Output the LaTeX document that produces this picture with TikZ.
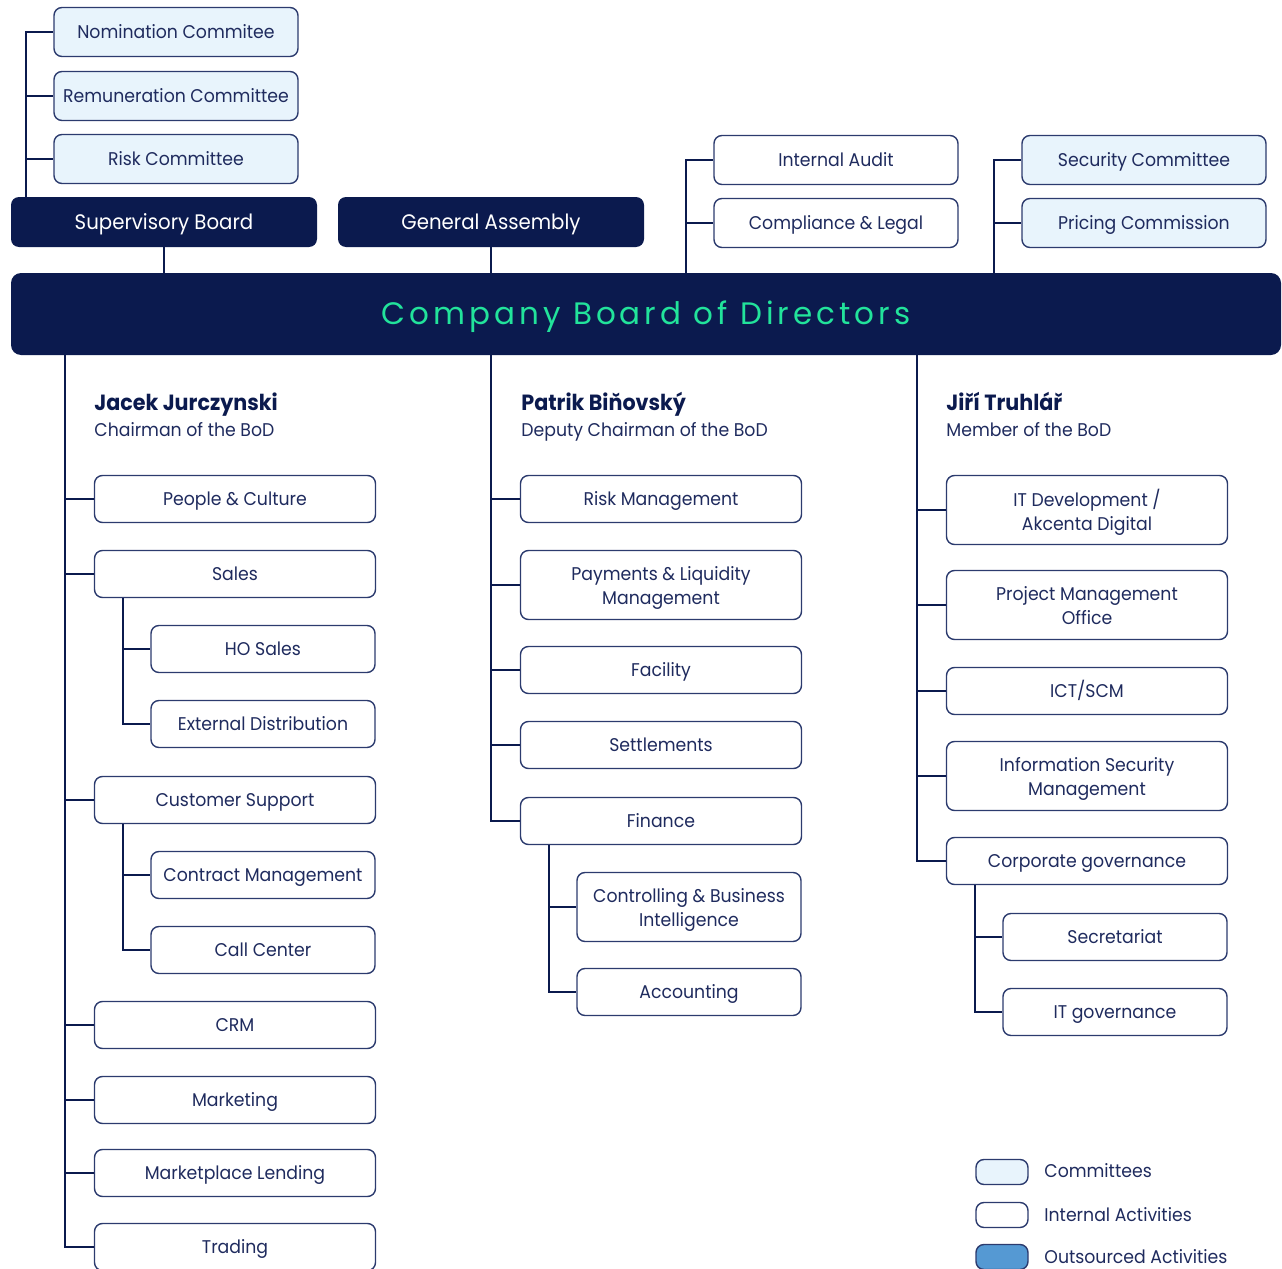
\documentclass[tikz,border=0pt]{standalone}
\usepackage{fontspec}
\setmainfont[FakeStretch=0.94]{Poppins}
\newfontfamily\boardfont[LetterSpace=13]{Poppins}
\definecolor{navy}{HTML}{0B1A4E}
\definecolor{inkblue}{HTML}{1F2B5E}
\definecolor{edgeblue}{HTML}{2C3B6E}
\definecolor{paleblue}{HTML}{E8F4FC}
\definecolor{mint}{HTML}{22E39B}
\definecolor{outblue}{HTML}{5599D3}
\begin{document}
\begin{tikzpicture}[x=0.5pt,y=-0.5pt,
    frame/.style={draw=edgeblue,line width=0.7pt,rounded corners=4pt,fill=white,text=inkblue,
        font=\fontsize{9.2}{12}\selectfont,align=center,minimum height=23.5pt,inner sep=1pt},
    oneline/.style={text height=8.84pt,text depth=2.4pt},
    unit/.style={frame,oneline,minimum width=140.5pt},
    subunit/.style={frame,oneline,minimum width=112pt},
    twoline/.style={frame,minimum width=140.5pt,minimum height=34.5pt,text depth=-1.4pt},
    subtwoline/.style={twoline,minimum width=112pt},
    small/.style={frame,oneline,minimum width=122pt,minimum height=24.5pt},
    cmte/.style={small,fill=paleblue},
    body/.style={fill=navy,rounded corners=4pt,text=white,minimum width=153pt,minimum height=25pt,
        font=\fontsize{10.5}{12}\selectfont,text height=10.05pt,text depth=2.7pt},
    link/.style={draw=navy,line width=1.2pt},
    head/.style={anchor=base west,text=navy,inner sep=0pt,font=\fontsize{11}{12}\selectfont\bfseries},
    role/.style={anchor=base west,text=inkblue,inner sep=0pt,font=\fontsize{9.2}{12}\selectfont},
    key/.style={draw=edgeblue,line width=0.7pt,rounded corners=4pt,minimum width=26pt,minimum height=12.5pt,inner sep=0pt},
    keytext/.style={anchor=base west,text=inkblue,inner sep=0pt,font=\fontsize{9.2}{12}\selectfont}]
    \useasboundingbox (0,0) rectangle (1282,1269);
    \clip (0,0) rectangle (1282,1269);
    %top
    \node[cmte] (nomination) at (176,32) {Nomination Commitee};
    \node[cmte] (remuneration) at (176,96) {Remuneration Committee};
    \node[cmte] (riskc) at (176,159) {Risk Committee};
    \node[body] (sb) at (164,222) {Supervisory Board};
    \node[body] (ga) at (491,222) {General Assembly};
    \node[small] (audit) at (836,160) {Internal Audit};
    \node[small] (compliance) at (836,223) {Compliance \& Legal};
    \node[cmte] (security) at (1144,160) {Security Committee};
    \node[cmte] (pricing) at (1144,223) {Pricing Commission};
    \node[fill=navy,rounded corners=5pt,minimum width=635pt,minimum height=41pt,text=mint,
        font=\fontsize{15.5}{18}\boardfont,text height=14.85pt,text depth=4pt] (bod) at (646,314) {Company Board of Directors};
    \coordinate (sbspine) at (26,197);
    \draw[link] (sbspine) |- (nomination.west);
    \foreach \n in {remuneration,riskc} \draw[link] (sbspine |- \n.west) -- (\n.west);
    \draw[link] (sb.south) -- (sb.south |- bod.north);
    \draw[link] (ga.south) -- (ga.south |- bod.north);
    \coordinate (auditspine) at (686,273);
    \draw[link] (auditspine) |- (audit.west);
    \draw[link] (auditspine |- compliance.west) -- (compliance.west);
    \coordinate (secspine) at (994,273);
    \draw[link] (secspine) |- (security.west);
    \draw[link] (secspine |- pricing.west) -- (pricing.west);
    %chairman
    \node[head] (jjname) at (94,410.5) {Jacek Jurczynski};
    \node[role] (jjrole) at (94,436.5) {Chairman of the BoD};
    \node[unit] (people) at (235,499) {People \& Culture};
    \node[unit] (sales) at (235,574) {Sales};
    \node[subunit] (hosales) at (263,649) {HO Sales};
    \node[subunit] (extdist) at (263,724) {External Distribution};
    \node[unit] (support) at (235,800) {Customer Support};
    \node[subunit] (contract) at (263,875) {Contract Management};
    \node[subunit] (callc) at (263,950) {Call Center};
    \node[unit] (crm) at (235,1025) {CRM};
    \node[unit] (marketing) at (235,1100) {Marketing};
    \node[unit] (lending) at (235,1173) {Marketplace Lending};
    \node[unit] (trading) at (235,1247) {Trading};
    \coordinate (lspine) at (65,355);
    \draw[link] (lspine) |- (trading.west);
    \foreach \n in {people,sales,support,crm,marketing,lending} \draw[link] (lspine |- \n.west) -- (\n.west);
    \coordinate (salesspine) at (123,598);
    \draw[link] (salesspine) |- (extdist.west);
    \draw[link] (salesspine |- hosales.west) -- (hosales.west);
    \coordinate (supportspine) at (123,824);
    \draw[link] (supportspine) |- (callc.west);
    \draw[link] (supportspine |- contract.west) -- (contract.west);
    %deputy
    \node[head] (pbname) at (521,410.5) {Patrik Biňovský};
    \node[role] (pbrole) at (521,436.5) {Deputy Chairman of the BoD};
    \node[unit] (riskm) at (661,499) {Risk Management};
    \node[twoline] (payments) at (661,585) {Payments \& Liquidity\\Management};
    \node[unit] (facility) at (661,670) {Facility};
    \node[unit] (settle) at (661,745) {Settlements};
    \node[unit] (finance) at (661,821) {Finance};
    \node[subtwoline] (controlling) at (689,907) {Controlling \& Business\\Intelligence};
    \node[subunit] (accounting) at (689,992) {Accounting};
    \coordinate (mspine) at (491,355);
    \draw[link] (mspine) |- (finance.west);
    \foreach \n in {riskm,payments,facility,settle} \draw[link] (mspine |- \n.west) -- (\n.west);
    \coordinate (finspine) at (549,845);
    \draw[link] (finspine) |- (accounting.west);
    \draw[link] (finspine |- controlling.west) -- (controlling.west);
    %member
    \node[head] (jtname) at (946,410.5) {Jiří Truhlář};
    \node[role] (jtrole) at (946,436.5) {Member of the BoD};
    \node[twoline] (itdev) at (1087,510) {IT Development /\\Akcenta Digital};
    \node[twoline] (pmo) at (1087,605) {Project Management\\Office};
    \node[unit] (ict) at (1087,691) {ICT/SCM};
    \node[twoline] (infosec) at (1087,776) {Information Security\\Management};
    \node[unit] (corpgov) at (1087,861) {Corporate governance};
    \node[subunit] (secretariat) at (1115,937) {Secretariat};
    \node[subunit] (itgov) at (1115,1012) {IT governance};
    \coordinate (rspine) at (917,355);
    \draw[link] (rspine) |- (corpgov.west);
    \foreach \n in {itdev,pmo,ict,infosec} \draw[link] (rspine |- \n.west) -- (\n.west);
    \coordinate (govspine) at (975,885);
    \draw[link] (govspine) |- (itgov.west);
    \draw[link] (govspine |- secretariat.west) -- (secretariat.west);
    %legend
    \node[key,fill=paleblue] (keycmte) at (1002,1172) {};
    \node[key,fill=white] (keyint) at (1002,1215) {};
    \node[key,fill=outblue] (keyout) at (1002,1257) {};
    \node[keytext] at (1044,1177.5) {Committees};
    \node[keytext] at (1044,1221.5) {Internal Activities};
    \node[keytext] at (1044,1263.5) {Outsourced Activities};
\end{tikzpicture}
\end{document}
